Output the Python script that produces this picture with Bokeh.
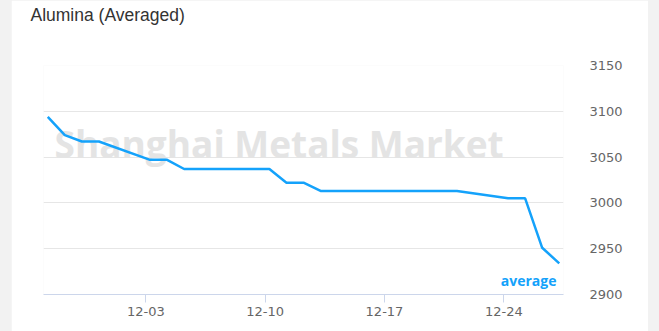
import pandas as pd
from bokeh.plotting import figure
from bokeh.layouts import column
from bokeh.models import Range1d, FixedTicker, DatetimeTickFormatter, Label, Title
from bokeh.embed import file_html
from bokeh.resources import INLINE

# Daily averaged alumina price (trading days only)
dates = [
    "2018-11-27", "2018-11-28", "2018-11-29", "2018-11-30",
    "2018-12-03", "2018-12-04", "2018-12-05", "2018-12-06", "2018-12-07",
    "2018-12-10", "2018-12-11", "2018-12-12", "2018-12-13", "2018-12-14",
    "2018-12-17", "2018-12-18", "2018-12-19", "2018-12-20", "2018-12-21",
    "2018-12-24", "2018-12-25", "2018-12-26", "2018-12-27",
]
average = [
    3094, 3074, 3067, 3067,
    3047, 3047, 3037, 3037, 3037,
    3037, 3022, 3022, 3013, 3013,
    3013, 3013, 3013, 3013, 3013,
    3005, 3005, 2951, 2934,
]
tick_dates = ["2018-12-03", "2018-12-10", "2018-12-17", "2018-12-24"]
y_ticks = [2900, 2950, 3000, 3050, 3100, 3150]

title_text = "Alumina (Averaged)"
watermark_text = "Shanghai Metals Market"
series_name = "average"

LINE_COLOR = "#14a2fb"
SAMPLE_TIME = pd.Timedelta(hours=6)

x = pd.to_datetime(dates) + SAMPLE_TIME

p = figure(
    width=637, height=331,
    x_axis_type="datetime", y_axis_location="right",
    output_backend="svg", toolbar_location=None,
    min_border_left=32, min_border_right=85,
    min_border_top=65, min_border_bottom=37,
    x_range=Range1d(pd.Timestamp(dates[0]), pd.Timestamp(dates[-1]) + pd.Timedelta(hours=12)),
    y_range=Range1d(y_ticks[0], y_ticks[-1]),
)
p.margin = (0, 11, 0, 11)
p.background_fill_color = "white"
p.border_fill_color = "white"
p.outline_line_color = None

# blank band between the title and the plot area
p.add_layout(Title(text=" ", text_font_size="17.5px", standoff=13), "above")
# chart title at the top of the card
p.add_layout(Title(
    text=title_text, text_font="Liberation Sans", text_font_size="17.5px",
    text_font_style="normal", text_color="#333333",
    align="left", vertical_align="top", offset=-13, standoff=8,
), "above")

# watermark behind the series
p.add_layout(Label(
    x=11, y=151, x_units="screen", y_units="screen",
    text=watermark_text, text_font="Open Sans", text_font_style="bold",
    text_font_size="37px", text_color="#e4e4e4",
    text_align="left", text_baseline="alphabetic", level="underlay",
))

p.line(x, average, line_color=LINE_COLOR, line_width=2.5)

# x axis
xa = p.xaxis[0]
xa.ticker = FixedTicker(ticks=[pd.Timestamp(d).value / 1e6 for d in tick_dates])
xa.formatter = DatetimeTickFormatter(days="%m-%d", months="%m-%d", hours="%m-%d")
xa.axis_line_color = "#ccd6eb"
xa.major_tick_line_color = "#ccd6eb"
xa.major_tick_out = 8
xa.major_tick_in = 0
xa.minor_tick_line_color = None
xa.major_label_standoff = 4
xa.major_label_text_font = "DejaVu Sans"
xa.major_label_text_font_size = "13px"
xa.major_label_text_color = "#666666"

# y axis on the right
ya = p.yaxis[0]
ya.ticker = FixedTicker(ticks=y_ticks)
ya.axis_line_color = None
ya.major_tick_line_color = None
ya.minor_tick_line_color = None
ya.major_label_standoff = 20
ya.major_label_text_font = "DejaVu Sans"
ya.major_label_text_font_size = "13px"
ya.major_label_text_color = "#666666"

p.xgrid.grid_line_color = None
p.ygrid.grid_line_color = "#e6e6e6"
p.ygrid.grid_line_width = 1

# series name near the end of the line
p.add_layout(Label(
    x=513, y=14, x_units="screen", y_units="screen",
    text=series_name, text_font="Open Sans", text_font_style="bold",
    text_font_size="14px", text_color=LINE_COLOR,
    text_align="right", text_baseline="alphabetic",
))

page = column(p, width=659, height=331, styles={"background-color": "#f2f2f2"})

with open("out.html", "w") as f:
    f.write(file_html(page, INLINE))
